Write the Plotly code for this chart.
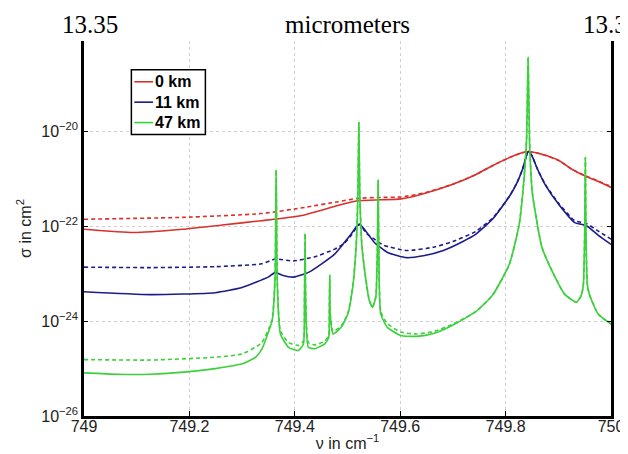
import plotly.graph_objects as go

# wavenumber (cm^-1) and log10(sigma / cm^2)
red_solid_nu = [749.0, 749.094, 749.187, 749.262, 749.337, 749.414, 749.482, 749.519, 749.563, 749.601,
                749.644, 749.700, 749.743, 749.775, 749.807, 749.828, 749.843, 749.869, 749.901, 749.925,
                749.949, 749.975, 750.0]
red_solid_lg = [-22.06, -22.13, -22.06, -21.97, -21.88, -21.77, -21.56, -21.46, -21.44, -21.42,
                -21.31, -21.11, -20.91, -20.72, -20.55, -20.46, -20.42, -20.48, -20.61, -20.79,
                -20.93, -21.05, -21.18]

red_dash_nu = [749.0, 749.187, 749.337, 749.419, 749.482, 749.519, 749.563, 749.601, 749.644, 749.700,
               749.743, 749.775, 749.807, 749.828, 749.843, 749.869, 749.901, 749.925, 749.949, 749.975, 750.0]
red_dash_lg = [-21.85, -21.81, -21.73, -21.60, -21.48, -21.41, -21.39, -21.38, -21.30, -21.11,
               -20.91, -20.72, -20.55, -20.46, -20.42, -20.48, -20.61, -20.79, -20.92, -21.04, -21.16]

blue_solid_nu = [749.0, 749.126, 749.249, 749.300, 749.326, 749.351, 749.363, 749.376, 749.398, 749.426,
                 749.451, 749.476, 749.494, 749.507, 749.516, 749.5225, 749.532, 749.551, 749.576, 749.612,
                 749.644, 749.682, 749.719, 749.743, 749.775, 749.807, 749.822, 749.832, 749.843, 749.850,
                 749.860, 749.875, 749.901, 749.931, 749.953, 749.976, 750.0]
blue_solid_lg = [-23.38, -23.44, -23.40, -23.29, -23.18, -23.06, -22.97, -23.03, -23.07, -22.97,
                 -22.79, -22.58, -22.34, -22.16, -22.02, -21.95, -22.06, -22.34, -22.55, -22.66,
                 -22.62, -22.51, -22.32, -22.17, -21.85, -21.37, -21.07, -20.80, -20.42, -20.51,
                 -20.78, -21.12, -21.54, -21.92, -21.98, -22.19, -22.38]

blue_dash_nu = [749.0, 749.126, 749.249, 749.337, 749.363, 749.397, 749.438, 749.476, 749.494, 749.507,
                749.5225, 749.536, 749.551, 749.569, 749.612, 749.663, 749.700, 749.743, 749.775, 749.807,
                749.822, 749.832, 749.843, 749.850, 749.860, 749.875, 749.901, 749.931, 749.953, 749.976, 750.0]
blue_dash_lg = [-22.86, -22.87, -22.85, -22.79, -22.69, -22.73, -22.64, -22.48, -22.36, -22.19,
                -21.96, -22.15, -22.27, -22.40, -22.51, -22.44, -22.32, -22.11, -21.83, -21.37,
                -21.07, -20.80, -20.42, -20.51, -20.78, -21.11, -21.52, -21.88, -21.94, -22.10, -22.27]

green_solid_nu = [749.0, 749.064, 749.125, 749.195, 749.249, 749.300, 749.326, 749.338, 749.350, 749.357,
                  749.3625, 749.3646, 749.3668, 749.3727, 749.388, 749.407, 749.4163, 749.4183, 749.4195,
                  749.4208, 749.4257, 749.438, 749.457, 749.4644, 749.4655, 749.4663, 749.4672, 749.4725,
                  749.488, 749.5006, 749.5099, 749.5163, 749.5198, 749.5215, 749.5235, 749.5275, 749.535,
                  749.5412, 749.5474, 749.5537, 749.5568, 749.5581, 749.5594, 749.5631, 749.5755, 749.6006,
                  749.6316, 749.6629, 749.7004, 749.7434, 749.7753, 749.8071, 749.8258, 749.8352, 749.8399,
                  749.8427, 749.8455, 749.8502, 749.8539, 749.8689, 749.8876, 749.912, 749.9345, 749.9438,
                  749.9476, 749.9500, 749.9513, 749.9526, 749.9551, 749.9588, 749.9757, 750.0]
green_solid_lg = [-25.09, -25.12, -25.12, -25.07, -25.00, -24.90, -24.76, -24.58, -24.23, -23.99,
                  -23.10, -20.81, -23.20, -24.27, -24.55, -24.62, -24.48, -23.60, -22.15,
                  -23.65, -24.55, -24.58, -24.48, -24.34, -23.80, -23.03, -23.85, -24.27,
                  -24.13, -23.85, -23.28, -22.44, -21.30, -19.81, -21.40, -22.44, -23.14,
                  -23.56, -23.71, -23.49, -22.40, -21.03, -22.45, -23.85, -24.13, -24.30,
                  -24.32, -24.26, -24.08, -23.80, -23.45, -22.80, -21.96, -20.97, -20.13,
                  -18.44, -20.23, -21.24, -21.54, -22.44, -22.93, -23.43, -23.60, -23.45,
                  -23.22, -22.20, -20.55, -22.25, -23.22, -23.43, -23.85, -24.06]

green_dash_nu = [749.0, 749.125, 749.249, 749.300, 749.337, 749.350, 749.357, 749.3625, 749.3646, 749.3668,
                 749.3727, 749.388, 749.407, 749.4163, 749.4183, 749.4195, 749.4208, 749.4257, 749.438,
                 749.457, 749.4644, 749.4655, 749.4663, 749.4672, 749.4725, 749.488, 749.5006, 749.5099,
                 749.5163, 749.5198, 749.5215, 749.5235, 749.5275, 749.535, 749.5412, 749.5474, 749.5537,
                 749.5568, 749.5581, 749.5594, 749.5631, 749.5755, 749.6006, 749.6316, 749.6629, 749.7004,
                 749.7434, 749.7753, 749.8071, 749.8258, 749.8352, 749.8399, 749.8427, 749.8455, 749.8502,
                 749.8539, 749.8689, 749.8876, 749.912, 749.9345, 749.9438, 749.9476, 749.9500, 749.9513,
                 749.9526, 749.9551, 749.9588, 749.9757, 750.0]
green_dash_lg = [-24.81, -24.82, -24.76, -24.69, -24.46, -24.17, -23.97, -23.10, -20.81, -23.20,
                 -24.20, -24.45, -24.51, -24.42, -23.58, -22.15, -23.63, -24.45, -24.50,
                 -24.42, -24.30, -23.78, -23.03, -23.83, -24.22, -24.10, -23.84, -23.28,
                 -22.44, -21.30, -19.81, -21.40, -22.44, -23.13, -23.55, -23.70, -23.48,
                 -22.40, -21.03, -22.45, -23.80, -24.05, -24.23, -24.27, -24.22, -24.06,
                 -23.80, -23.45, -22.80, -21.96, -20.97, -20.13, -18.44, -20.23, -21.24,
                 -21.54, -22.44, -22.93, -23.43, -23.60, -23.45, -23.22, -22.20, -20.55,
                 -22.25, -23.22, -23.43, -23.85, -24.06]

series_names = ["0 km", "11 km", "47 km"]
x_ticks = [749, 749.2, 749.4, 749.6, 749.8, 750]
x_tick_text = ["749", "749.2", "749.4", "749.6", "749.8", "750"]
y_ticks = [1e-26, 1e-24, 1e-22, 1e-20]
y_tick_text = ["10<sup>\u221226</sup>", "10<sup>\u221224</sup>", "10<sup>\u221222</sup>", "10<sup>\u221220</sup>"]
top_labels = ["13.35", "micrometers", "13.33"]

RED, BLUE, GREEN = "#d9302c", "#1c1c8a", "#3ad13a"
colors = [RED, BLUE, GREEN]

# plot area in pixels
L, R, T, B = 76, 610, 33, 410
W, H = R - L, B - T


def sig(vals):
    return [10 ** v for v in vals]


def px_x(p):
    return (p - L) / W


def px_y(p):
    return (B - p) / H


fig = go.Figure()
curves = [
    (red_dash_nu, red_dash_lg, RED, True, None),
    (blue_dash_nu, blue_dash_lg, BLUE, True, None),
    (green_dash_nu, green_dash_lg, GREEN, True, None),
    (red_solid_nu, red_solid_lg, RED, False, series_names[0]),
    (blue_solid_nu, blue_solid_lg, BLUE, False, series_names[1]),
    (green_solid_nu, green_solid_lg, GREEN, False, series_names[2]),
]
for nu, lg, col, dashed, name in curves:
    fig.add_trace(go.Scatter(
        x=nu, y=sig(lg), mode="lines",
        line=dict(color=col, width=1.6, dash="4px,3px" if dashed else "solid", shape="spline", smoothing=0.5),
        name=name if name else "", showlegend=False,
    ))

sans = "Liberation Sans, Arial, sans-serif"

fig.update_layout(
    width=628, height=454,
    margin=dict(l=L, r=628 - R, t=T, b=454 - B),
    paper_bgcolor="white", plot_bgcolor="white",
    showlegend=False,
    xaxis=dict(range=[749, 750], tickvals=x_ticks, ticktext=x_tick_text,
               showline=True, linecolor="black", linewidth=2.5, mirror=False,
               ticks="inside", ticklen=5, tickcolor="black", ticklabelstandoff=-6,
               showgrid=True, gridcolor="#cfcfcf", griddash="dot", gridwidth=1,
               zeroline=False, tickfont=dict(family=sans, size=16, color="#222"),
               title=dict(text="\u03bd in cm<sup>\u22121</sup>", font=dict(family=sans, size=16, color="#222"), standoff=4)),
    yaxis=dict(type="log", range=[-26, -18.09], tickvals=y_ticks, ticktext=y_tick_text,
               showline=True, linecolor="black", linewidth=2.5, mirror="ticks",
               ticks="inside", ticklen=4, tickcolor="black",
               showgrid=True, gridcolor="#cfcfcf", griddash="dot", gridwidth=1,
               zeroline=False, tickfont=dict(family=sans, size=16, color="#222"),
               title=dict(text="\u03c3 in cm<sup>2</sup>", font=dict(family=sans, size=16, color="#222"), standoff=6)),
)

# legend box (drawn to match the compact original legend)
fig.add_shape(type="rect", xref="paper", yref="paper",
              x0=px_x(124), x1=px_x(199), y0=px_y(127), y1=px_y(62),
              line=dict(color="black", width=1.5), fillcolor="white", layer="above")
for i, (name, col) in enumerate(zip(series_names, colors)):
    yy = 74 + i * 20.5
    fig.add_shape(type="line", xref="paper", yref="paper",
                  x0=px_x(127), x1=px_x(146), y0=px_y(yy), y1=px_y(yy),
                  line=dict(color=col, width=1.6), layer="above")
    fig.add_annotation(text="<b>%s</b>" % name, x=px_x(146), y=px_y(yy), xref="paper", yref="paper",
                       showarrow=False, xanchor="left", yanchor="middle",
                       font=dict(family=sans, size=16, color="black"))

serif = dict(family="Liberation Serif, Times New Roman, serif", size=25, color="black")
for txt, px in zip(top_labels, [82, 343, 610]):
    fig.add_annotation(text=txt, x=px_x(px), y=px_y(16),
                       xref="paper", yref="paper", showarrow=False,
                       xanchor="center", yanchor="middle", font=serif)

fig.write_html("out.html")
